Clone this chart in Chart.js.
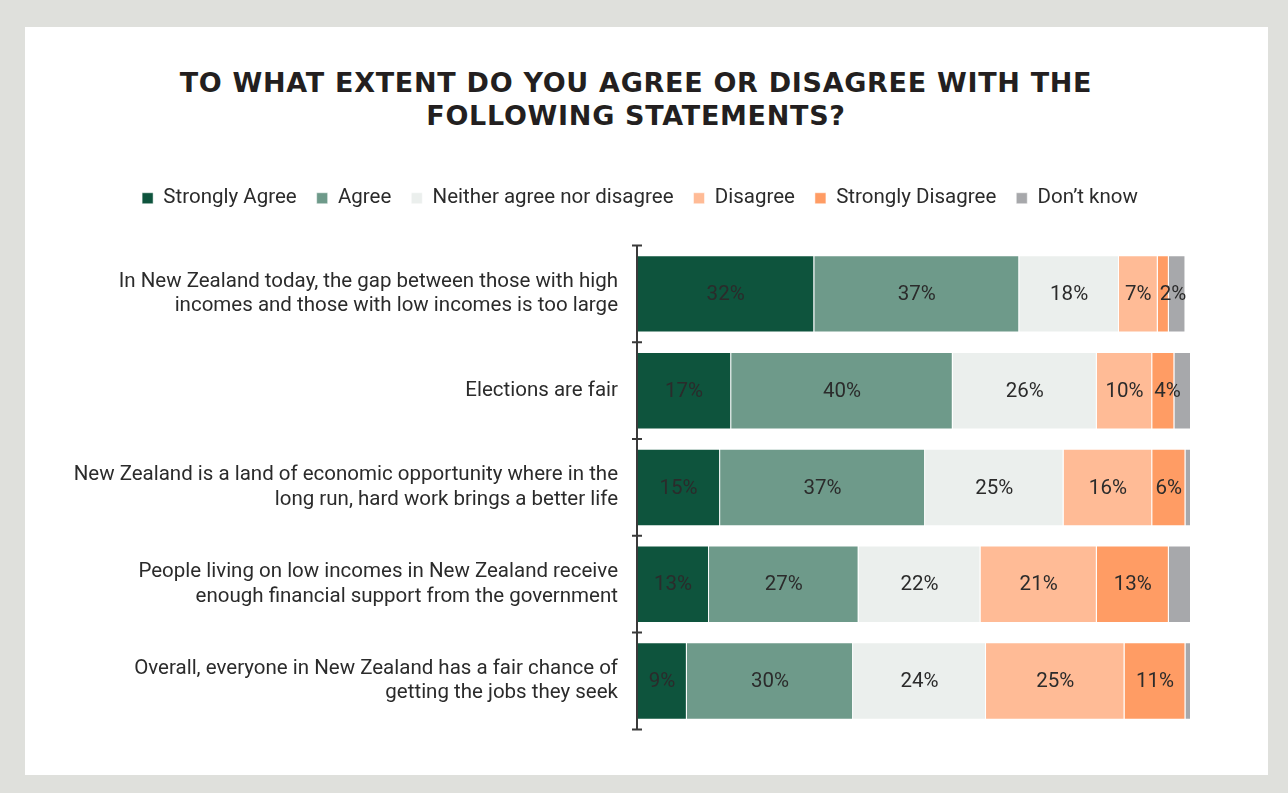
<!DOCTYPE html>
<html>
<head>
<meta charset="utf-8">
<script src="https://cdn.jsdelivr.net/npm/chart.js@4"></script>
<style>
  html, body { margin: 0; padding: 0; }
  body { width: 1288px; height: 793px; background: #dfe0dc; position: relative; overflow: hidden; }
  .panel { position: absolute; left: 25px; top: 27px; width: 1243px; height: 748px; background: #ffffff; }
  .title {
    position: absolute; left: 0; top: 66px; width: 1272px; text-align: center;
    font-family: "DejaVu Sans", sans-serif; font-weight: bold; font-size: 27px;
    line-height: 33px; letter-spacing: 0.7px; color: #231f20;
  }
  .chart-box { position: absolute; left: 0; top: 154px; width: 1288px; height: 619px; }
</style>
</head>
<body>
<div class="panel"></div>
<div class="title">TO WHAT EXTENT DO YOU AGREE OR DISAGREE WITH THE<br>FOLLOWING STATEMENTS?</div>
<div class="chart-box"><canvas id="agreeChart"></canvas></div>

<script>
// Survey statements (rows)
const statements = [
  ['In New Zealand today, the gap between those with high', 'incomes and those with low incomes is too large'],
  'Elections are fair',
  ['New Zealand is a land of economic opportunity where in the', 'long run, hard work brings a better life'],
  ['People living on low incomes in New Zealand receive', 'enough financial support from the government'],
  ['Overall, everyone in New Zealand has a fair chance of', 'getting the jobs they seek']
];

// Response shares, % per statement
const stronglyAgree    = [32, 17, 15, 13, 9];
const agree            = [37, 40, 37, 27, 30];
const neither          = [18, 26, 25, 22, 24];
const disagree         = [7, 10, 16, 21, 25];
const stronglyDisagree = [2, 4, 6, 13, 11];
const dontKnow         = [3, 3, 1, 4, 1];

const responseNames = ['Strongly Agree', 'Agree', 'Neither agree nor disagree', 'Disagree', 'Strongly Disagree', 'Don\u2019t know'];
const responseColors = ['#0e543d', '#6e9a8a', '#ebefed', '#ffbb96', '#ff9c64', '#a7a8ab'];
const seriesValues = [stronglyAgree, agree, neither, disagree, stronglyDisagree, dontKnow];

const textColor = '#2b2b2b';
const fontFamily = 'Roboto, "Noto Sans", sans-serif';

// extra gap under the legend, and centre it on the page rather than the plot
const legendPlacement = {
  id: 'legendPlacement',
  beforeInit(chart) {
    const fit = chart.legend.fit;
    chart.legend.fit = function () {
      fit.call(this);
      this.height += 27;
    };
  },
  afterUpdate(chart) {
    chart.legend.left += 32;
    chart.legend.right += 32;
  }
};

// percentage labels inside segments (no labels on "Don't know")
const segmentLabels = {
  id: 'segmentLabels',
  afterDatasetsDraw(chart) {
    const ctx = chart.ctx;
    ctx.save();
    ctx.font = '20.5px ' + fontFamily;
    ctx.fillStyle = textColor;
    ctx.textBaseline = 'middle';
    ctx.textAlign = 'center';
    chart.data.datasets.forEach((ds, di) => {
      if (di === chart.data.datasets.length - 1) return;
      const meta = chart.getDatasetMeta(di);
      meta.data.forEach((bar, i) => {
        const text = ds.data[i] + '%';
        const left = Math.min(bar.x, bar.base);
        const right = Math.max(bar.x, bar.base);
        const w = ctx.measureText(text).width;
        let cx = (left + right) / 2;
        // narrow segment: push the label right so it clears the previous one
        if (w > right - left) cx = Math.max(cx, left + w / 2 + 2);
        ctx.fillText(text, cx, bar.y + 1);
      });
    });
    ctx.restore();
  }
};

// vertical axis line with tick marks between the statements
const categoryAxis = {
  id: 'categoryAxis',
  afterDraw(chart) {
    const y = chart.scales.y;
    const x0 = chart.chartArea.left;
    const n = chart.data.labels.length;
    const ctx = chart.ctx;
    ctx.save();
    ctx.strokeStyle = '#3a3a3a';
    ctx.lineWidth = 2;
    ctx.beginPath();
    ctx.moveTo(x0, y.top);
    ctx.lineTo(x0, y.bottom);
    for (let i = 0; i <= n; i++) {
      const ty = y.top + i * (y.bottom - y.top) / n;
      ctx.moveTo(x0 - 5, ty);
      ctx.lineTo(x0 + 5, ty);
    }
    ctx.stroke();
    ctx.restore();
  }
};

new Chart(document.getElementById('agreeChart'), {
  type: 'bar',
  data: {
    labels: statements,
    datasets: responseNames.map((name, i) => ({
      label: name,
      data: seriesValues[i],
      backgroundColor: responseColors[i],
      borderColor: 'rgba(255,255,255,0.5)',
      borderWidth: 1,
      barPercentage: 0.8,
      categoryPercentage: 1.0
    }))
  },
  options: {
    indexAxis: 'y',
    responsive: true,
    maintainAspectRatio: false,
    animation: false,
    layout: { padding: { left: 25, right: 97, top: 14, bottom: 30 } },
    scales: {
      x: {
        stacked: true,
        display: false,
        min: 0,
        max: 100
      },
      y: {
        stacked: true,
        grid: { display: false, drawTicks: false },
        border: { display: false },
        ticks: {
          color: textColor,
          padding: 19,
          font: { family: fontFamily, size: 20.5, lineHeight: 1.2 }
        },
        afterFit(scale) { scale.width = 612; }
      }
    },
    plugins: {
      legend: {
        position: 'top',
        labels: {
          color: textColor,
          boxWidth: 11,
          boxHeight: 11,
          padding: 20,
          font: { family: fontFamily, size: 20.5 }
        }
      },
      tooltip: { enabled: false }
    }
  },
  plugins: [legendPlacement, segmentLabels, categoryAxis]
});
</script>
</body>
</html>
